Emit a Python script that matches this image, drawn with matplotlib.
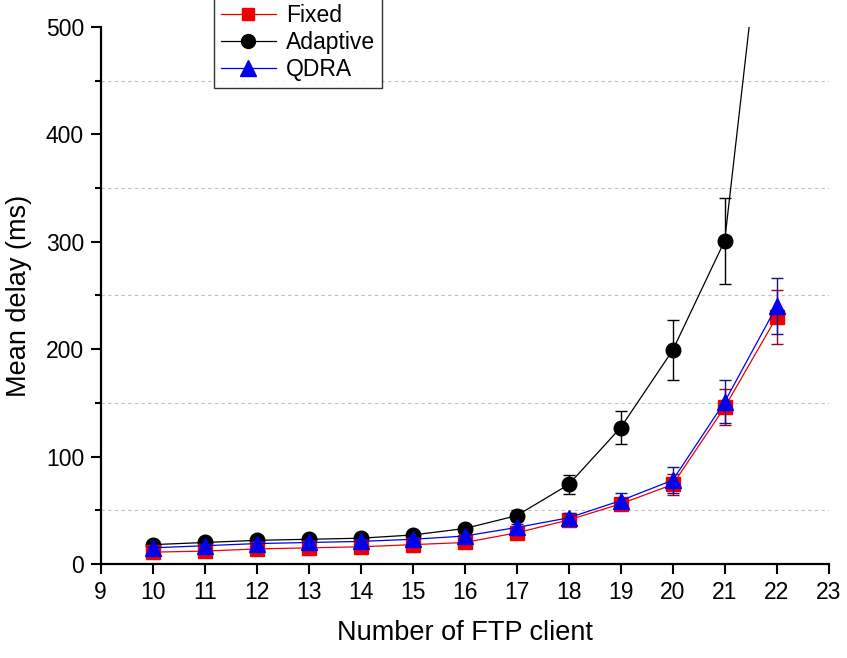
import matplotlib
matplotlib.use("Agg")
import matplotlib.pyplot as plt
from matplotlib.lines import Line2D
from matplotlib.ticker import MultipleLocator

plt.rcParams['font.family'] = ['Liberation Sans', 'DejaVu Sans']

# data
clients = [10, 11, 12, 13, 14, 15, 16, 17, 18, 19, 20, 21, 22]
fixed = [11, 12, 14, 15, 16, 18, 20, 29, 41, 56, 74, 146, 230]
fixed_err = [2, 2, 2, 2, 2, 2, 2, 3, 4, 5, 10, 17, 25]
adaptive = [18, 20, 22, 23, 24, 27, 33, 45, 74, 127, 199, 301, 725]
adaptive_err = [2, 2, 2, 2, 2, 2, 3, 5, 9, 15, 28, 40, 50]
qdra = [15, 17, 19, 20, 21, 23, 26, 34, 43, 59, 78, 151, 240]
qdra_err = [2, 2, 2, 2, 2, 2, 2, 3, 4, 7, 12, 20, 26]

fig = plt.figure(figsize=(8.47, 6.58), dpi=100)
ax = fig.add_axes([0.1189, 0.1429, 0.8595, 0.8161])

ax.errorbar(clients, adaptive, yerr=adaptive_err, color='black', marker='o',
            markersize=10.5, linewidth=0.9, elinewidth=1, capsize=4, zorder=3)
ax.errorbar(clients, fixed, yerr=fixed_err, color='#ee0000', ecolor='#a00020',
            marker='s', markersize=9.5, linewidth=0.9, elinewidth=1, capsize=4,
            zorder=4)
ax.errorbar(clients, qdra, yerr=qdra_err, color='#0000ee', ecolor='#101090',
            marker='^', markersize=11.5, linewidth=0.9, elinewidth=1, capsize=4,
            zorder=5)

ax.set_xlim(9, 23)
ax.set_ylim(0, 500)
ax.xaxis.set_major_locator(MultipleLocator(1))
ax.yaxis.set_major_locator(MultipleLocator(100))
ax.yaxis.set_minor_locator(MultipleLocator(50))

# dotted grid only at the minor y positions
ax.grid(True, which='minor', axis='y', color='#c0c0c0', linestyle=(0, (3, 3)),
        linewidth=0.8)

for s in ['top', 'right']:
    ax.spines[s].set_visible(False)
for s in ['left', 'bottom']:
    ax.spines[s].set_linewidth(1.6)

ax.tick_params(which='major', direction='out', length=7, width=1.5,
               labelsize=16.5, pad=5)
ax.tick_params(which='minor', direction='out', length=4, width=1.5)

ax.set_xlabel('Number of FTP client', fontsize=19.5, labelpad=12)
ax.set_ylabel('Mean delay (ms)', fontsize=19.5, labelpad=10)

# legend shows plain line + marker, no error bars
handles = [
    Line2D([], [], color='#ee0000', marker='s', markersize=9, linewidth=0.9),
    Line2D([], [], color='black', marker='o', markersize=10, linewidth=0.9),
    Line2D([], [], color='#0000ee', marker='^', markersize=11, linewidth=0.9),
]
leg = fig.legend(handles, ['Fixed', 'Adaptive', 'QDRA'],
                 loc='upper left', bbox_to_anchor=(0.2527, 1.004),
                 fontsize=16.5, frameon=True, fancybox=False, handlelength=2.4,
                 borderpad=0.3, labelspacing=0.17, handletextpad=0.45,
                 borderaxespad=0)
leg.get_frame().set_edgecolor('black')
leg.get_frame().set_linewidth(1.0)

fig.savefig('out.png', dpi=100)
plt.close(fig)
